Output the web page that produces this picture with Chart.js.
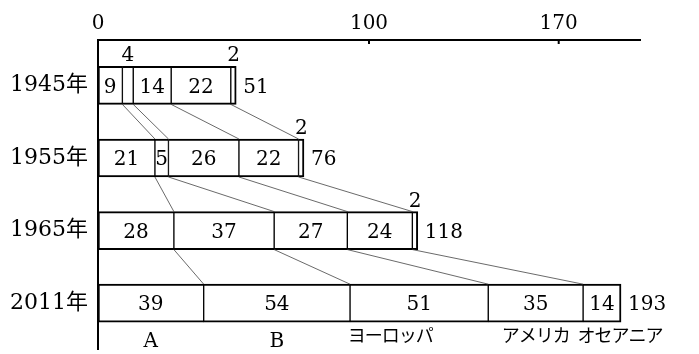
<!DOCTYPE html>
<html>
<head>
<meta charset="utf-8">
<script src="https://cdn.jsdelivr.net/npm/chart.js@4/dist/chart.umd.min.js"></script>
<style>
  html, body { margin: 0; padding: 0; background: #fff; }
  canvas { display: block; }
</style>
</head>
<body>
<canvas id="chart" width="699" height="354"></canvas>
<script>
const years = ['1945年', '1955年', '1965年', '2011年'];
const regions = ['A', 'B', 'ヨーロッパ', 'アメリカ', 'オセアニア'];
const regionA = [9, 21, 28, 39];
const regionB = [4, 5, 37, 54];
const europe = [14, 26, 27, 51];
const america = [22, 22, 24, 35];
const oceania = [2, 2, 2, 14];
const xTicks = [0, 100, 170];

const serif = "'DejaVu Serif', 'Noto Sans CJK JP', serif";
const gothic = "'Noto Sans CJK JP', sans-serif";

function makeSet(label, values, idx, last) {
  return {
    label: label,
    data: values.map((v, i) => ({x: v, y: i})),
    backgroundColor: '#fff',
    borderColor: '#000',
    borderWidth: {top: 2, bottom: 2, left: idx === 0 ? 2 : 1, right: idx === last ? 2 : 1},
    borderSkipped: false,
    barThickness: 38,
    stack: 'all'
  };
}

const series = [regionA, regionB, europe, america, oceania];
const datasets = series.map((s, i) => makeSet(regions[i], s, i, series.length - 1));

// labels, connecting lines and inner ticks
const decorations = {
  id: 'decorations',
  afterDatasetsDraw(chart, args, opts) {
    const ctx = chart.ctx;
    const area = chart.chartArea;
    const metas = datasets.map((d, i) => chart.getDatasetMeta(i));
    ctx.save();

    // lines between boundaries of consecutive years
    ctx.strokeStyle = '#444';
    ctx.lineWidth = 0.8;
    for (let r = 0; r < years.length - 1; r++) {
      for (let d = 0; d < metas.length - 1; d++) {
        const a = metas[d].data[r];
        const b = metas[d].data[r + 1];
        ctx.beginPath();
        ctx.moveTo(a.x, a.y + a.height / 2);
        ctx.lineTo(b.x, b.y - b.height / 2);
        ctx.stroke();
      }
    }

    // values in / above segments
    ctx.fillStyle = '#000';
    ctx.font = '20px ' + serif;
    ctx.textAlign = 'center';
    metas.forEach((meta, d) => {
      meta.data.forEach((el, r) => {
        const v = series[d][r];
        const cx = (el.x + el.base) / 2;
        if (v < 5) {
          ctx.textBaseline = 'alphabetic';
          ctx.fillText(String(v), cx, el.y - el.height / 2 - 5);
        } else {
          ctx.textBaseline = 'middle';
          ctx.fillText(String(v), cx, el.y + 2);
        }
      });
    });

    // totals
    ctx.textAlign = 'left';
    ctx.textBaseline = 'middle';
    const lastMeta = metas[metas.length - 1];
    lastMeta.data.forEach((el, r) => {
      const total = series.reduce((s, arr) => s + arr[r], 0);
      ctx.fillText(String(total), el.x + 7, el.y + 2);
    });

    // region names under the last bar
    ctx.textAlign = 'center';
    const row = years.length - 1;
    metas.forEach((meta, d) => {
      const el = meta.data[row];
      const cx = (el.x + el.base) / 2 + opts.shift[d];
      if (/^[A-Za-z]+$/.test(regions[d])) {
        ctx.letterSpacing = '0px';
        ctx.font = '20px ' + serif;
        ctx.fillText(regions[d], cx, 342);
      } else {
        ctx.letterSpacing = '-1px';
        ctx.font = '18px ' + gothic;
        ctx.fillText(regions[d], cx, 335);
      }
    });
    ctx.letterSpacing = '0px';

    // small inward ticks on the top axis
    const xs = chart.scales.x;
    ctx.strokeStyle = '#000';
    ctx.lineWidth = 2;
    xTicks.forEach(v => {
      if (v === 0) return;
      const px = xs.getPixelForValue(v);
      ctx.beginPath();
      ctx.moveTo(px, area.top);
      ctx.lineTo(px, area.top + 4);
      ctx.stroke();
    });
    ctx.restore();
  }
};

Chart.defaults.color = '#000';

new Chart(document.getElementById('chart').getContext('2d'), {
  type: 'bar',
  data: { datasets: datasets },
  plugins: [decorations],
  options: {
    indexAxis: 'y',
    responsive: false,
    animation: false,
    layout: { padding: { left: 0, top: 0, right: 59, bottom: 5 } },
    plugins: {
      legend: { display: false },
      tooltip: { enabled: false },
      decorations: { shift: [0, 0, -29, 0, 18] }
    },
    scales: {
      x: {
        type: 'linear',
        position: 'top',
        stacked: true,
        min: 0,
        max: 200,
        afterBuildTicks: s => { s.ticks = xTicks.map(v => ({value: v})); },
        afterFit: s => { s.height = 40; },
        grid: { display: false, drawTicks: false, tickLength: 0 },
        border: { display: true, color: '#000', width: 2 },
        ticks: { font: { family: serif, size: 20 }, padding: 4, color: '#000', maxRotation: 0 }
      },
      y: {
        type: 'linear',
        reverse: true,
        stacked: true,
        offset: false,
        min: -0.625,
        max: 3.631,
        afterBuildTicks: s => { s.ticks = years.map((y, i) => ({value: i})); },
        afterFit: s => { s.width = 98; s.paddingTop = 0; s.paddingBottom = 0; },
        grid: { display: false, drawTicks: false, tickLength: 0, offset: false },
        border: { display: true, color: '#000', width: 2 },
        ticks: {
          font: { family: serif, size: 22 },
          padding: 10,
          color: '#000',
          callback: v => years[v]
        }
      }
    }
  }
});
</script>
</body>
</html>
